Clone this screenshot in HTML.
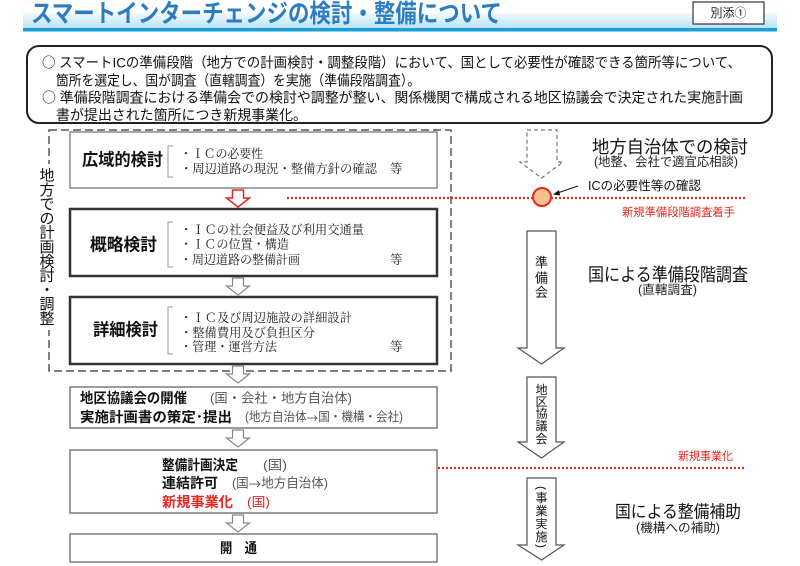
<!DOCTYPE html>
<html><head><meta charset="utf-8"><style>
html,body{margin:0;padding:0;background:#fff;}
svg{display:block;}
text{font-family:"Liberation Sans","Noto Sans CJK JP",sans-serif;dominant-baseline:central;}
.s{font-family:"Liberation Serif","Noto Serif CJK SC",serif;}
.j{font-family:"Noto Sans CJK JP",sans-serif;}
</style></head><body>
<svg width="800" height="566" viewBox="0 0 800 566" xmlns="http://www.w3.org/2000/svg">
<defs><linearGradient id="band" x1="0" y1="0" x2="0" y2="1"><stop offset="0" stop-color="#f2fafe"/><stop offset="1" stop-color="#b5e1f4"/></linearGradient></defs>
<rect width="800" height="566" fill="#fff"/>
<!-- header -->
<rect x="23" y="13" width="754" height="16" fill="url(#band)"/>
<rect x="23" y="28" width="754" height="3.5" fill="#1aa0d8"/>
<text x="31" y="14" font-size="25" font-weight="bold" fill="#2c7cc2" textLength="471" lengthAdjust="spacingAndGlyphs">スマートインターチェンジの検討・整備について</text>
<rect x="693" y="2" width="71" height="22" fill="#fff" stroke="#333" stroke-width="1.2"/>
<text x="728.5" y="13" font-size="12" text-anchor="middle" fill="#222">別添①</text>
<!-- top note box -->
<rect x="27" y="46" width="745" height="77" rx="12" fill="#fff" stroke="#222" stroke-width="2"/>
<text x="42" y="62.5" font-size="14" fill="#111" textLength="699" lengthAdjust="spacingAndGlyphs"><tspan class="j">○</tspan> スマートICの準備段階（地方での計画検討・調整段階）において、国として必要性が確認できる箇所等について、</text>
<text x="56" y="80.5" font-size="14" fill="#111" textLength="364" lengthAdjust="spacingAndGlyphs">箇所を選定し、国が調査（直轄調査）を実施（準備段階調査）。</text>
<text x="42" y="97.5" font-size="14" fill="#111" textLength="701" lengthAdjust="spacingAndGlyphs"><tspan class="j">○</tspan> 準備段階調査における準備会での検討や調整が整い、関係機関で構成される地区協議会で決定された実施計画</text>
<text x="56" y="115" font-size="14" fill="#111" textLength="251" lengthAdjust="spacingAndGlyphs">書が提出された箇所につき新規事業化。</text>
<!-- outer dashed box -->
<rect x="49" y="130" width="402" height="241" fill="none" stroke="#555" stroke-width="1.5" stroke-dasharray="8 4"/>
<rect x="38" y="164" width="20" height="166" fill="#fff"/>
<g font-size="15" fill="#111" text-anchor="middle">
<text x="47" y="176">地</text><text x="47" y="190.3">方</text><text x="47" y="204.6">で</text><text x="47" y="218.9">の</text><text x="47" y="233.2">計</text><text x="47" y="247.5">画</text><text x="47" y="261.8">検</text><text x="47" y="276.1">討</text><text x="47" y="290.4">・</text><text x="47" y="304.7">調</text><text x="47" y="319">整</text>
</g>
<!-- red dotted lines -->
<line x1="287" y1="198" x2="745" y2="198" stroke="#e8261e" stroke-width="2.2" stroke-dasharray="2 2"/>
<line x1="438" y1="468" x2="745" y2="468" stroke="#e8261e" stroke-width="2.2" stroke-dasharray="2 2"/>
<!-- box 1 -->
<rect x="70" y="132" width="367" height="56" fill="#fff" stroke="#777" stroke-width="1.3"/>
<text x="82" y="160" font-size="17" font-weight="bold" fill="#111" textLength="81" lengthAdjust="spacingAndGlyphs">広域的検討</text>
<path d="M173 146H168V177H173" fill="none" stroke="#999" stroke-width="1"/>
<text class="s" x="180" y="154" font-size="12.5" fill="#222" textLength="83" lengthAdjust="spacingAndGlyphs">・ＩＣの必要性</text>
<text class="s" x="180" y="169" font-size="12.5" fill="#222" textLength="197" lengthAdjust="spacingAndGlyphs">・周辺道路の現況・整備方針の確認</text>
<text class="s" x="390" y="169" font-size="12.5" fill="#222">等</text>
<!-- red arrow -->
<path d="M232.5 190H243.5V198H249.5L238 207L226.5 198H232.5Z" fill="#fff" stroke="#e8261e" stroke-width="1.5"/>
<!-- box 2 -->
<rect x="70" y="209" width="367" height="67" fill="#fff" stroke="#333" stroke-width="2.5"/>
<text x="90" y="245" font-size="17" font-weight="bold" fill="#111" textLength="67" lengthAdjust="spacingAndGlyphs">概略検討</text>
<path d="M173 222H168V267H173" fill="none" stroke="#999" stroke-width="1"/>
<text class="s" x="180" y="230" font-size="12.5" fill="#222" textLength="184" lengthAdjust="spacingAndGlyphs">・ＩＣの社会便益及び利用交通量</text>
<text class="s" x="180" y="244.5" font-size="12.5" fill="#222" textLength="109" lengthAdjust="spacingAndGlyphs">・ＩＣの位置・構造</text>
<text class="s" x="180" y="260" font-size="12.5" fill="#222" textLength="120" lengthAdjust="spacingAndGlyphs">・周辺道路の整備計画</text>
<text class="s" x="390" y="260" font-size="12.5" fill="#222">等</text>
<path d="M232.5 278H243.5V286H249.5L238 295L226.5 286H232.5Z" fill="#fff" stroke="#888" stroke-width="1.2"/>
<!-- box 3 -->
<rect x="70" y="297" width="367" height="67" fill="#fff" stroke="#333" stroke-width="2.5"/>
<text x="93" y="330" font-size="17" font-weight="bold" fill="#111" textLength="65" lengthAdjust="spacingAndGlyphs">詳細検討</text>
<path d="M173 307H168V354H173" fill="none" stroke="#999" stroke-width="1"/>
<text class="s" x="180" y="318" font-size="12.5" fill="#222" textLength="172" lengthAdjust="spacingAndGlyphs">・ＩＣ及び周辺施設の詳細設計</text>
<text class="s" x="180" y="333" font-size="12.5" fill="#222" textLength="135" lengthAdjust="spacingAndGlyphs">・整備費用及び負担区分</text>
<text class="s" x="180" y="347" font-size="12.5" fill="#222" textLength="97" lengthAdjust="spacingAndGlyphs">・管理・運営方法</text>
<text class="s" x="390" y="347" font-size="12.5" fill="#222">等</text>
<path d="M232.5 366H243.5V374H249.5L238 383L226.5 374H232.5Z" fill="#fff" stroke="#888" stroke-width="1.2"/>
<!-- box 4 -->
<rect x="70" y="387" width="367" height="41" fill="#fff" stroke="#666" stroke-width="1.3"/>
<text x="80" y="398" font-size="14" font-weight="bold" fill="#111" textLength="107" lengthAdjust="spacingAndGlyphs">地区協議会の開催</text>
<text x="210" y="398" font-size="13" fill="#555" textLength="142" lengthAdjust="spacingAndGlyphs">(国・会社・地方自治体)</text>
<text x="80" y="417" font-size="14" font-weight="bold" fill="#111" textLength="152" lengthAdjust="spacingAndGlyphs">実施計画書の策定･提出</text>
<text x="245" y="417" font-size="12.5" fill="#555" textLength="158" lengthAdjust="spacingAndGlyphs">(地方自治体<tspan class="j">→</tspan>国・機構・会社)</text>
<path d="M232.5 430H243.5V438H249.5L238 447L226.5 438H232.5Z" fill="#fff" stroke="#888" stroke-width="1.2"/>
<!-- box 5 -->
<rect x="70" y="450" width="367" height="63" fill="#fff" stroke="#666" stroke-width="1.3"/>
<text x="162" y="465" font-size="14" font-weight="bold" fill="#111" textLength="76" lengthAdjust="spacingAndGlyphs">整備計画決定</text>
<text x="263" y="465" font-size="13" fill="#555" textLength="24" lengthAdjust="spacingAndGlyphs">(国)</text>
<text x="162" y="483" font-size="14" font-weight="bold" fill="#111" textLength="56" lengthAdjust="spacingAndGlyphs">連結許可</text>
<text x="232" y="483" font-size="13" fill="#555" textLength="96" lengthAdjust="spacingAndGlyphs">(国<tspan class="j">→</tspan>地方自治体)</text>
<text x="162" y="502" font-size="14" font-weight="bold" fill="#e8261e" textLength="71" lengthAdjust="spacingAndGlyphs">新規事業化</text>
<text x="247" y="502" font-size="13" fill="#e8261e" textLength="23" lengthAdjust="spacingAndGlyphs">(国)</text>
<path d="M232.5 515H243.5V523H249.5L238 532L226.5 523H232.5Z" fill="#fff" stroke="#888" stroke-width="1.2"/>
<!-- box 6 -->
<rect x="70" y="534" width="367" height="28" fill="#fff" stroke="#666" stroke-width="1.3"/>
<text x="220" y="548" font-size="14" font-weight="bold" fill="#111" textLength="37" lengthAdjust="spacingAndGlyphs">開　通</text>
<!-- right side -->
<path d="M527 130H557V162H563L541.5 178L520 162H527Z" fill="none" stroke="#777" stroke-width="1.2" stroke-dasharray="4 3"/>
<text x="592" y="147" font-size="17.5" fill="#111" textLength="156" lengthAdjust="spacingAndGlyphs">地方自治体での検討</text>
<text x="594" y="162" font-size="12.5" fill="#222" textLength="144" lengthAdjust="spacingAndGlyphs">(地整、会社で適宜応相談)</text>
<circle cx="542" cy="197" r="9" fill="#f8c08c" stroke="#e8261e" stroke-width="2"/>
<line x1="578" y1="186" x2="556" y2="193.5" stroke="#111" stroke-width="1"/>
<path d="M553 194.5L559 190L560 195.5Z" fill="#111"/>
<text x="588" y="186" font-size="12.5" fill="#111" textLength="113" lengthAdjust="spacingAndGlyphs">ICの必要性等の確認</text>
<text x="622" y="213" font-size="11.5" fill="#e8261e" textLength="113" lengthAdjust="spacingAndGlyphs">新規準備段階調査着手</text>
<path d="M527 231H556V348H564L541.5 364L518 348H527Z" fill="#fff" stroke="#555" stroke-width="1.2"/>
<g font-size="13" fill="#111" text-anchor="middle">
<text x="541.5" y="262.5">準</text><text x="541.5" y="278">備</text><text x="541.5" y="292.5">会</text>
</g>
<text x="588" y="275" font-size="18" fill="#111" textLength="160" lengthAdjust="spacingAndGlyphs">国による準備段階調査</text>
<text x="638" y="290" font-size="12.5" fill="#222" textLength="59" lengthAdjust="spacingAndGlyphs">(直轄調査)</text>
<path d="M527 377H556V442H564L541.5 458L518 442H527Z" fill="#fff" stroke="#555" stroke-width="1.2"/>
<g font-size="12" fill="#111" text-anchor="middle">
<text x="541.5" y="390">地</text><text x="541.5" y="402">区</text><text x="541.5" y="413.5">協</text><text x="541.5" y="426">議</text><text x="541.5" y="439">会</text>
</g>
<text x="678" y="457" font-size="11.5" fill="#e8261e" textLength="55" lengthAdjust="spacingAndGlyphs">新規事業化</text>
<path d="M527 478H556V545H564L541.5 560L518 545H527Z" fill="#fff" stroke="#555" stroke-width="1.2"/>
<g font-size="12" fill="#111" text-anchor="middle">
<text x="541.5" y="488" transform="rotate(90 541.5 488)">(</text>
<text x="541.5" y="498">事</text><text x="541.5" y="511">業</text><text x="541.5" y="524">実</text><text x="541.5" y="537">施</text>
<text x="541.5" y="546" transform="rotate(90 541.5 546)">)</text>
</g>
<text x="615" y="512" font-size="17" fill="#111" textLength="126" lengthAdjust="spacingAndGlyphs">国による整備補助</text>
<text x="636" y="528" font-size="12.5" fill="#222" textLength="84" lengthAdjust="spacingAndGlyphs">(機構への補助)</text>
</svg>
</body></html>
